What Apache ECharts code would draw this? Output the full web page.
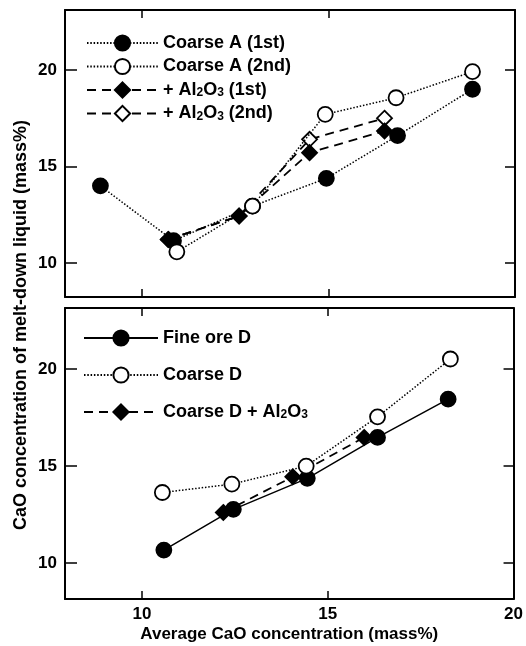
<!DOCTYPE html>
<html><head><meta charset="utf-8">
<script src="https://cdn.jsdelivr.net/npm/echarts@6/dist/echarts.min.js"></script>
<style>html,body{margin:0;padding:0;background:#fff}#c{width:526px;height:646px}</style>
</head><body><div id="c"></div>
<script>
// ---- data ----
const xTicks = [10, 15, 20];
const yTicks = [10, 15, 20];
const coarseA1st = [[8.88,14.0],[10.84,11.16],[12.96,12.95],[14.94,14.39],[16.85,16.6],[18.86,19.0]];
const coarseA2nd = [[10.93,10.59],[12.96,12.95],[14.91,17.7],[16.81,18.56],[18.86,19.91]];
const al1st = [[10.7,11.23],[12.6,12.44],[14.49,15.72],[16.5,16.84]];
const al2nd = [[10.7,11.23],[12.6,12.44],[14.49,16.41],[16.5,17.5]];
const fineD = [[10.59,10.67],[12.46,12.77],[14.45,14.37],[16.34,16.48],[18.24,18.45]];
const coarseD = [[10.55,13.64],[12.42,14.07],[14.42,15.0],[16.34,17.54],[18.3,20.52]];
const coarseDAl = [[12.19,12.61],[14.06,14.45],[15.98,16.48]];
const xLabel = 'Average CaO concentration (mass%)';
const yLabel = 'CaO concentration of melt-down liquid (mass%)';

const FONT = '"Liberation Sans", Arial, Helvetica, sans-serif';
const axisLine = {show:true, onZero:false, lineStyle:{color:'#000', width:2}};

function xAx(grid, pos, showLabel, tickLen, name){
  return {
    type:'value', gridIndex:grid, position:pos, min:7.93, max:20,
    axisLine:axisLine, splitLine:{show:false},
    axisTick:{show:true, inside:true, length:tickLen, customValues:xTicks, lineStyle:{color:'#000', width:1.5}},
    axisLabel:{show:showLabel, customValues:xTicks, margin:7, color:'#000', fontFamily:FONT, fontWeight:'bold', fontSize:17},
    name:name||'', nameLocation:'middle', nameGap:27,
    nameTextStyle:{color:'#000', fontFamily:FONT, fontWeight:'bold', fontSize:17}
  };
}
function yAx(grid, pos, showLabel, tickLen, mn, mx){
  return {
    type:'value', gridIndex:grid, position:pos, min:mn, max:mx,
    axisLine:axisLine, splitLine:{show:false},
    axisTick:{show:true, inside:true, length:tickLen, customValues:yTicks, lineStyle:{color:'#000', width:1.5}},
    axisLabel:{show:showLabel, customValues:yTicks, margin:8, color:'#000', fontFamily:FONT, fontWeight:'bold', fontSize:17}
  };
}

function ser(name, data, xi, yi, filled, symbol, lineType, z){
  return {
    name:name, type:'line', data:data, xAxisIndex:xi, yAxisIndex:yi, z:z,
    symbol:symbol, symbolSize:15, showSymbol:true, animation:false,
    lineStyle:{color:'#000', width: lineType==='dashed'?1.8:1.5, type: lineType==='dotted'?[1.5,1.8]:(lineType==='dashed'?[9,6]:'solid')},
    itemStyle:{color: filled?'#000':'#fff', borderColor:'#000', borderWidth:1.8},
    emphasis:{disabled:true}
  };
}

function fmt(name){
  return name.replace('Al2O3','Al{sub|2}O{sub|3}');
}
const legendText = {color:'#000', fontFamily:FONT, fontWeight:'bold', fontSize:18,
  rich:{sub:{fontFamily:FONT, fontWeight:'bold', fontSize:12, verticalAlign:'bottom', color:'#000'}}};

const option = {
  backgroundColor:'#fff',
  animation:false,
  grid:[
    {left:65, top:10, width:450, height:287},
    {left:65, top:308, width:450, height:291}
  ],
  xAxis:[
    xAx(0,'bottom',false,8),
    xAx(0,'top',false,8),
    xAx(1,'bottom',true,8,xLabel),
    xAx(1,'top',false,8)
  ],
  yAxis:[
    yAx(0,'left',true,12,8.25,23.1),
    yAx(0,'right',false,10,8.25,23.1),
    yAx(1,'left',true,12,8.15,23.15),
    yAx(1,'right',false,10,8.15,23.15)
  ],
  legend:[
    {data:['Coarse A (1st)','Coarse A (2nd)','+ Al2O3 (1st)','+ Al2O3 (2nd)'],
     orient:'vertical', left:81, top:29, itemWidth:71, itemHeight:19, itemGap:5.5,
     selectedMode:false, textStyle:legendText, formatter:fmt},
    {data:['Fine ore D','Coarse D','Coarse D + Al2O3'],
     orient:'vertical', left:78, top:324, itemWidth:74, itemHeight:19, itemGap:19,
     selectedMode:false, textStyle:legendText, formatter:fmt}
  ],
  graphic:[
    {type:'text', x:21, y:325, rotation:Math.PI/2,
     style:{text:yLabel, fill:'#000', font:'bold 18px '+FONT, align:'center', verticalAlign:'middle'}}
  ],
  series:[
    ser('+ Al2O3 (2nd)', al2nd, 0, 0, false, 'diamond', 'dashed', 2),
    ser('+ Al2O3 (1st)', al1st, 0, 0, true, 'diamond', 'dashed', 3),
    ser('Coarse A (1st)', coarseA1st, 0, 0, true, 'circle', 'dotted', 4),
    ser('Coarse A (2nd)', coarseA2nd, 0, 0, false, 'circle', 'dotted', 5),
    ser('Coarse D + Al2O3', coarseDAl, 2, 2, true, 'diamond', 'dashed', 2),
    ser('Fine ore D', fineD, 2, 2, true, 'circle', 'solid', 3),
    ser('Coarse D', coarseD, 2, 2, false, 'circle', 'dotted', 4)
  ]
};
const chart = echarts.init(document.getElementById('c'), null, {renderer:'canvas'});
chart.setOption(option);
</script>
</body></html>
